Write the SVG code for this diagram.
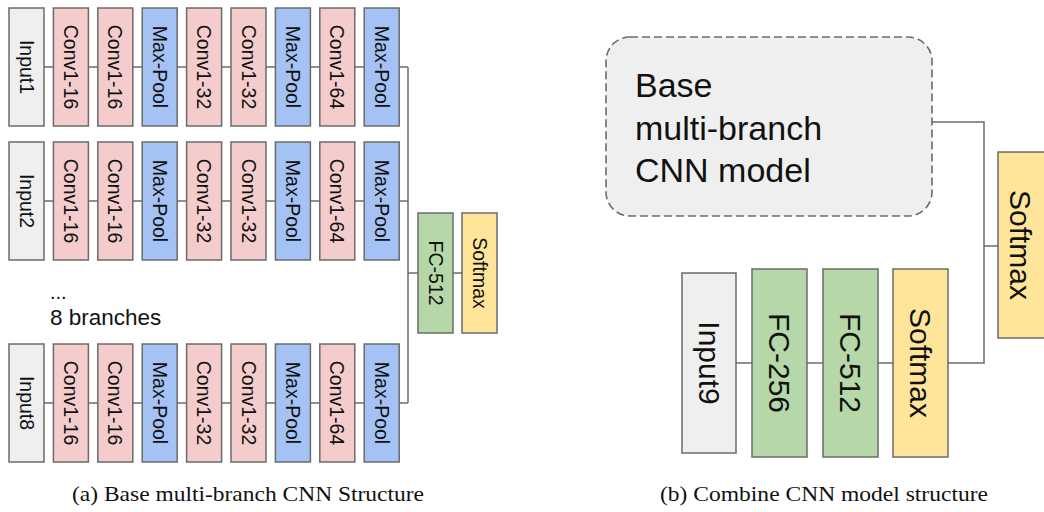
<svg xmlns="http://www.w3.org/2000/svg" width="1044" height="512" viewBox="0 0 1044 512">
  <style>
    .box { stroke: #6b6b6b; stroke-width: 1.5; }
    .input { fill: #efefef; }
    .conv { fill: #f4cccc; }
    .pool { fill: #a4c2f4; }
    .fc { fill: #b6d7a8; }
    .soft { fill: #ffe599; }
    .lbl { font-family: "Liberation Sans", Arial, sans-serif; font-size: 19.5px; fill: #111; text-anchor: middle; dominant-baseline: central; }
    .lbl-big { font-family: "Liberation Sans", Arial, sans-serif; font-size: 30px; fill: #111; text-anchor: middle; dominant-baseline: central; }
    .wire { fill: none; stroke: #6b6b6b; stroke-width: 1.5; }
    .note { font-family: "Liberation Sans", Arial, sans-serif; fill: #111; }
    .cap { font-family: "Liberation Serif", "Times New Roman", serif; font-size: 22px; fill: #111; }
  </style>

  <rect width="1044" height="512" fill="#ffffff"/>

  <!-- connectors -->
  <g id="connectors">
    <path class="wire" d="M44,67 H408"/>
    <path class="wire" d="M44,201 H408"/>
    <path class="wire" d="M44,403 H408"/>
    <path class="wire" d="M408,67 V403"/>
    <path class="wire" d="M408,273 H418"/>
    <path class="wire" d="M453,273 H462"/>
    <path class="wire" d="M932,122 H984 V363 H948"/>
    <path class="wire" d="M984,246 H998"/>
    <path class="wire" d="M736,363 H752"/>
    <path class="wire" d="M807,363 H823"/>
    <path class="wire" d="M878,363 H893"/>
  </g>

  <!-- branch 1 -->
  <g id="branch1">
    <g id="b1-input"><rect class="box input" x="9" y="8" width="35" height="118"/><text class="lbl" transform="translate(26.5,67) rotate(90)">Input1</text></g>
    <g id="b1-conv1"><rect class="box conv" x="53.4" y="8" width="35" height="118"/><text class="lbl" transform="translate(70.9,67) rotate(90)">Conv1-16</text></g>
    <g id="b1-conv2"><rect class="box conv" x="97.8" y="8" width="35" height="118"/><text class="lbl" transform="translate(115.3,67) rotate(90)">Conv1-16</text></g>
    <g id="b1-pool1"><rect class="box pool" x="142.2" y="8" width="35" height="118"/><text class="lbl" transform="translate(159.7,67) rotate(90)">Max-Pool</text></g>
    <g id="b1-conv3"><rect class="box conv" x="186.6" y="8" width="35" height="118"/><text class="lbl" transform="translate(204.1,67) rotate(90)">Conv1-32</text></g>
    <g id="b1-conv4"><rect class="box conv" x="231" y="8" width="35" height="118"/><text class="lbl" transform="translate(248.5,67) rotate(90)">Conv1-32</text></g>
    <g id="b1-pool2"><rect class="box pool" x="275.4" y="8" width="35" height="118"/><text class="lbl" transform="translate(292.9,67) rotate(90)">Max-Pool</text></g>
    <g id="b1-conv5"><rect class="box conv" x="319.8" y="8" width="35" height="118"/><text class="lbl" transform="translate(337.3,67) rotate(90)">Conv1-64</text></g>
    <g id="b1-pool3"><rect class="box pool" x="364.2" y="8" width="35" height="118"/><text class="lbl" transform="translate(381.7,67) rotate(90)">Max-Pool</text></g>
  </g>

  <!-- branch 2 -->
  <g id="branch2">
    <g id="b2-input"><rect class="box input" x="9" y="142" width="35" height="118"/><text class="lbl" transform="translate(26.5,201) rotate(90)">Input2</text></g>
    <g id="b2-conv1"><rect class="box conv" x="53.4" y="142" width="35" height="118"/><text class="lbl" transform="translate(70.9,201) rotate(90)">Conv1-16</text></g>
    <g id="b2-conv2"><rect class="box conv" x="97.8" y="142" width="35" height="118"/><text class="lbl" transform="translate(115.3,201) rotate(90)">Conv1-16</text></g>
    <g id="b2-pool1"><rect class="box pool" x="142.2" y="142" width="35" height="118"/><text class="lbl" transform="translate(159.7,201) rotate(90)">Max-Pool</text></g>
    <g id="b2-conv3"><rect class="box conv" x="186.6" y="142" width="35" height="118"/><text class="lbl" transform="translate(204.1,201) rotate(90)">Conv1-32</text></g>
    <g id="b2-conv4"><rect class="box conv" x="231" y="142" width="35" height="118"/><text class="lbl" transform="translate(248.5,201) rotate(90)">Conv1-32</text></g>
    <g id="b2-pool2"><rect class="box pool" x="275.4" y="142" width="35" height="118"/><text class="lbl" transform="translate(292.9,201) rotate(90)">Max-Pool</text></g>
    <g id="b2-conv5"><rect class="box conv" x="319.8" y="142" width="35" height="118"/><text class="lbl" transform="translate(337.3,201) rotate(90)">Conv1-64</text></g>
    <g id="b2-pool3"><rect class="box pool" x="364.2" y="142" width="35" height="118"/><text class="lbl" transform="translate(381.7,201) rotate(90)">Max-Pool</text></g>
  </g>

  <!-- elided branches -->
  <g id="ellipsis-note">
    <text class="note" x="50" y="299" font-size="20">...</text>
    <text class="note" x="50" y="325" font-size="22.5">8 branches</text>
  </g>

  <!-- branch 8 -->
  <g id="branch8">
    <g id="b8-input"><rect class="box input" x="9" y="344" width="35" height="118"/><text class="lbl" transform="translate(26.5,403) rotate(90)">Input8</text></g>
    <g id="b8-conv1"><rect class="box conv" x="53.4" y="344" width="35" height="118"/><text class="lbl" transform="translate(70.9,403) rotate(90)">Conv1-16</text></g>
    <g id="b8-conv2"><rect class="box conv" x="97.8" y="344" width="35" height="118"/><text class="lbl" transform="translate(115.3,403) rotate(90)">Conv1-16</text></g>
    <g id="b8-pool1"><rect class="box pool" x="142.2" y="344" width="35" height="118"/><text class="lbl" transform="translate(159.7,403) rotate(90)">Max-Pool</text></g>
    <g id="b8-conv3"><rect class="box conv" x="186.6" y="344" width="35" height="118"/><text class="lbl" transform="translate(204.1,403) rotate(90)">Conv1-32</text></g>
    <g id="b8-conv4"><rect class="box conv" x="231" y="344" width="35" height="118"/><text class="lbl" transform="translate(248.5,403) rotate(90)">Conv1-32</text></g>
    <g id="b8-pool2"><rect class="box pool" x="275.4" y="344" width="35" height="118"/><text class="lbl" transform="translate(292.9,403) rotate(90)">Max-Pool</text></g>
    <g id="b8-conv5"><rect class="box conv" x="319.8" y="344" width="35" height="118"/><text class="lbl" transform="translate(337.3,403) rotate(90)">Conv1-64</text></g>
    <g id="b8-pool3"><rect class="box pool" x="364.2" y="344" width="35" height="118"/><text class="lbl" transform="translate(381.7,403) rotate(90)">Max-Pool</text></g>
  </g>

  <!-- merged head of the base model -->
  <g id="base-fc512"><rect class="box fc" x="418" y="213" width="35" height="120"/><text class="lbl" transform="translate(435.5,273) rotate(90)">FC-512</text></g>
  <g id="base-softmax"><rect class="box soft" x="462" y="213" width="35" height="120"/><text class="lbl" transform="translate(479.5,273) rotate(90)">Softmax</text></g>

  <!-- combined model -->
  <g id="base-model">
    <rect x="606" y="37" width="326" height="179" rx="24" ry="24" fill="#efefef" stroke="#6b6b6b" stroke-width="1.6" stroke-dasharray="8,4"/>
    <text class="note" font-size="34" x="635" y="97">Base</text>
    <text class="note" font-size="34" x="635" y="140">multi-branch</text>
    <text class="note" font-size="34" x="635" y="182">CNN model</text>
  </g>
  <g id="input9"><rect class="box input" x="682" y="273" width="54" height="180"/><text class="lbl-big" transform="translate(709,363) rotate(90)">Input9</text></g>
  <g id="fc256"><rect class="box fc" x="752" y="269" width="55" height="188"/><text class="lbl-big" transform="translate(779.5,363) rotate(90)">FC-256</text></g>
  <g id="fc512"><rect class="box fc" x="823" y="269" width="55" height="188"/><text class="lbl-big" transform="translate(850.5,363) rotate(90)">FC-512</text></g>
  <g id="softmax9"><rect class="box soft" x="893" y="269" width="55" height="188"/><text class="lbl-big" transform="translate(920.5,363) rotate(90)">Softmax</text></g>
  <g id="final-softmax"><rect class="box soft" x="998" y="152" width="60" height="186"/><text class="lbl-big" transform="translate(1020,245) rotate(90)">Softmax</text></g>

  <!-- captions -->
  <text class="cap" x="72" y="501" textLength="352" lengthAdjust="spacingAndGlyphs">(a) Base multi-branch CNN Structure</text>
  <text class="cap" x="660" y="501" textLength="328" lengthAdjust="spacingAndGlyphs">(b) Combine CNN model structure</text>
</svg>
